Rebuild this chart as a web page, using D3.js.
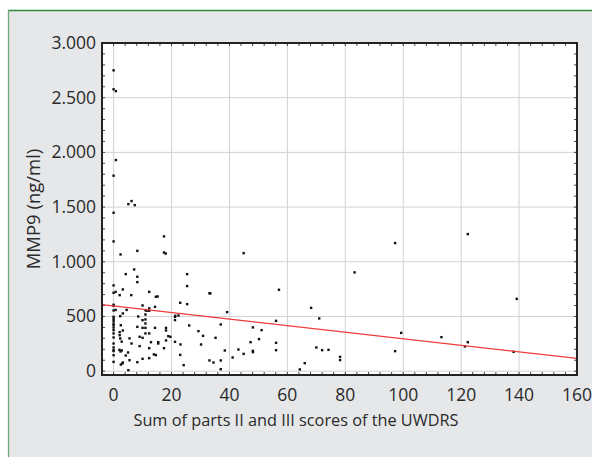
<!DOCTYPE html>
<html>
<head>
<meta charset="utf-8">
<script src="https://cdn.jsdelivr.net/npm/d3@7"></script>
<style>
  body { margin: 0; background: #fff; }
  text { font-family: "Open Sans", "Noto Sans", sans-serif; fill: #2a2a2a; }
</style>
</head>
<body>
<div id="chart"></div>
<script>
// UWDRS II+III score vs MMP9 (ng/ml)
var scores = [
  0, 0, 0, 0, 0, 0, 0, 0, 0, 0, 0, 0, 0, 0, 0, 0, 0, 0, 0, 0, 0, 0, 0, 0, 0,
  0.8, 0.8, 0.7, 0.7,
  2.4, 3.2, 2.1, 3.2, 2.3, 3.2, 2.1, 2.1, 2.3, 2, 2.4, 2.8, 3.2, 2.5, 3, 2.8, 2.5,
  4.2, 6.2, 5.1, 7.3, 6.1, 6.2, 5, 4.2, 5.1, 5.5, 5.5, 4.5,
  8.2, 7.1, 8.2, 8.2, 8.2, 8.2, 9, 9, 8.5,
  10, 11, 12.3, 11, 11, 10, 11, 10, 11, 11, 12.3, 10, 12.9, 12.3, 10, 12.3, 12.3, 11.4, 12.3,
  14.3, 15.2, 14.6, 14.3, 15.4, 13.9, 14.6, 15.4,
  17.4, 17.4, 18, 18.1, 18.1, 18.1, 17.4, 19.6, 18.9,
  21.2, 21.2, 22.4, 21.3, 21.2, 23, 25.4, 25.4, 25.4, 23.1, 23, 24.2, 26.1,
  33.1, 33.4, 29.3, 30.9, 30.2, 37, 35.2, 33.1, 34.5, 37, 37, 39.2, 38.4,
  44.9, 43.1, 44.9, 41.1, 48.1, 48.1, 48.1, 51.1, 50.2, 47.3,
  57.1, 56.1, 56.1, 56.1,
  64.3, 66, 68.2, 71, 70, 72, 74.2, 78.2, 78.2,
  83.2, 97.2, 97.2, 99.3, 113.2, 122.3, 122.3, 121.3, 139.2, 138.1
];
var mmp9 = [
  2750, 2577, 1787, 1448, 1186, 784, 716, 607, 597, 555, 497, 479, 460, 436, 421, 399, 375, 345, 308, 253, 217, 192, 184, 146, 85,
  2560, 1930, 725, 560,
  1067, 747, 695, 528, 503, 372, 357, 329, 299, 195, 180, 190, 79, 60, 70, 270, 420,
  887, 1555, 1527, 1518, 695, 253, 171, 143, 9, 100, 300, 560,
  1100, 930, 863, 814, 405, 82, 229, 314, 500,
  601, 558, 574, 518, 473, 466, 436, 396, 396, 345, 345, 305, 265, 210, 113, 119, 725, 552, 552,
  588, 683, 680, 396, 253, 153, 147, 265,
  1232, 1085, 1075, 396, 372, 281, 210, 314, 320,
  497, 467, 509, 506, 268, 625, 613, 887, 778, 244, 149, 55, 418,
  713, 710, 366, 323, 244, 427, 305, 98, 79, 98, 18, 540, 189,
  1079, 198, 158, 125, 186, 174, 400, 375, 293, 265,
  744, 460, 259, 192,
  16, 73, 579, 482, 217, 192, 195, 131, 101,
  903, 1171, 183, 350, 311, 1253, 265, 226, 661, 177
];
// regression line end points
var fitX = [-4, 160];
var fitY = [608, 117];

var xTicks = [0, 20, 40, 60, 80, 100, 120, 140, 160];
var yTicks = [0, 500, 1000, 1500, 2000, 2500, 3000];

var W = 592, H = 457;
var margin = {top: 43, right: 15, bottom: 82, left: 102};
var width = 577 - margin.left, height = 375 - margin.top;

var svg = d3.select("#chart").append("svg")
    .attr("width", W).attr("height", H);

// panel background with green edges
svg.append("rect").attr("x", 8).attr("y", 10).attr("width", W - 8).attr("height", H - 10)
    .attr("fill", "#e6e7e8");
svg.append("line").attr("x1", 8).attr("x2", W).attr("y1", 10.5).attr("y2", 10.5)
    .attr("stroke", "#2f8a45").attr("stroke-width", 1.3);
svg.append("line").attr("x1", 8.5).attr("x2", 8.5).attr("y1", 10).attr("y2", H)
    .attr("stroke", "#6aaa78").attr("stroke-width", 1.3);

var g = svg.append("g").attr("transform", "translate(" + margin.left + "," + margin.top + ")");

var x = d3.scaleLinear().domain([-4, 160]).range([0, width]);
var y = d3.scaleLinear().domain([-35, 3000]).range([height, 0]);

var loc = d3.formatLocale({decimal: ",", thousands: ".", grouping: [3], currency: ["", ""]});
var fmt = loc.format(",");

g.append("rect").attr("width", width).attr("height", height).attr("fill", "#fff");

// grid
g.append("g").selectAll("line").data(xTicks).enter().append("line")
    .attr("x1", function(d) { return x(d); }).attr("x2", function(d) { return x(d); })
    .attr("y1", 0).attr("y2", height)
    .attr("stroke", "#d2d2d2").attr("stroke-width", 1);
g.append("g").selectAll("line").data(yTicks).enter().append("line")
    .attr("y1", function(d) { return y(d); }).attr("y2", function(d) { return y(d); })
    .attr("x1", 0).attr("x2", width)
    .attr("stroke", "#d2d2d2").attr("stroke-width", 1);

// minor ticks on frame
var xMinor = d3.range(-4, 161, 4);
var yMinor = d3.range(0, 3001, 100);
var ticks = g.append("g").attr("stroke", "#444").attr("stroke-width", 1);
xMinor.forEach(function(d) {
  ticks.append("line").attr("x1", x(d)).attr("x2", x(d)).attr("y1", 0).attr("y2", 3);
  ticks.append("line").attr("x1", x(d)).attr("x2", x(d)).attr("y1", height).attr("y2", height - 3);
});
yMinor.forEach(function(d) {
  ticks.append("line").attr("y1", y(d)).attr("y2", y(d)).attr("x1", 0).attr("x2", 3);
  ticks.append("line").attr("y1", y(d)).attr("y2", y(d)).attr("x1", width).attr("x2", width - 3);
});

// points
g.append("g").selectAll("rect").data(scores).enter().append("rect")
    .attr("x", function(d) { return x(d) - 1.2; })
    .attr("y", function(d, i) { return y(mmp9[i]) - 1.2; })
    .attr("width", 2.4).attr("height", 2.4)
    .attr("fill", "#111");

// regression line
g.append("path")
    .datum(fitX)
    .attr("fill", "none").attr("stroke", "#ee3a3a").attr("stroke-width", 1.2)
    .attr("d", d3.line()
      .x(function(d) { return x(d); })
      .y(function(d, i) { return y(fitY[i]); }));

// frame
g.append("rect").attr("width", width).attr("height", height)
    .attr("fill", "none").attr("stroke", "#222").attr("stroke-width", 2);

// axes labels
g.append("g").selectAll("text").data(xTicks).enter().append("text")
    .attr("x", function(d) { return x(d); }).attr("y", height + 26)
    .attr("text-anchor", "middle").style("font-size", "17.5px")
    .text(function(d) { return d; });
g.append("g").selectAll("text").data(yTicks).enter().append("text")
    .attr("x", -6).attr("y", function(d) { return y(d) + 6; })
    .attr("text-anchor", "end").style("font-size", "17.5px")
    .text(function(d) { return fmt(d); });

svg.append("text")
    .attr("x", 296).attr("y", 426)
    .attr("text-anchor", "middle").style("font-size", "16.3px")
    .text("Sum of parts II and III scores of the UWDRS");
svg.append("text")
    .attr("transform", "translate(40,209) rotate(-90)")
    .attr("text-anchor", "middle").style("font-size", "18.5px")
    .text("MMP9 (ng/ml)");
</script>
</body>
</html>
